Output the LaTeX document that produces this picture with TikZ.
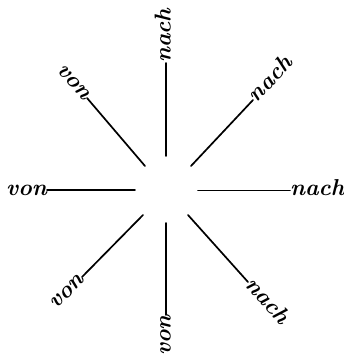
\documentclass[tikz,border=0pt]{standalone}
\begin{document}
\begin{tikzpicture}[x=1pt,y=-1pt,
  ray/.style={line width=1.7pt, line cap=round},
  lab/.style={font=\fontsize{23}{26}\selectfont\bfseries\itshape, inner sep=0pt, text height=10pt, text depth=0pt}]
\useasboundingbox (0,0) rectangle (344,358);
% inner ends
\coordinate (iL)  at (135,190);
\coordinate (iUL) at (145,166);
\coordinate (iLL) at (143,215);
\coordinate (iB)  at (165.7,223);
\coordinate (iT)  at (165.7,156);
\coordinate (iUR) at (191,166);
\coordinate (iR)  at (198,190.5);
\coordinate (iLR) at (188,215);
% labels
\node[lab, anchor=east, rotate=0]     (vL)  at (47,190)    {von};
\node[lab, anchor=east, rotate=-49.5] (vUL) at (87,98)     {von};
\node[lab, anchor=east, rotate=45.5]  (vLL) at (82,277)    {von};
\node[lab, anchor=east, rotate=90]    (vB)  at (165.7,315) {von};
\node[lab, anchor=west, rotate=90]    (nT)  at (165.7,63)  {nach};
\node[lab, anchor=west, rotate=46.8]  (nUR) at (253,100)   {nach};
\node[lab, anchor=west, rotate=0]     (nR)  at (290,190.5) {nach};
\node[lab, anchor=west, rotate=-48.2] (nLR) at (248,282)   {nach};
% rays
\draw[ray] (iL)  -- (vL.east);
\draw[ray] (iUL) -- (vUL.east);
\draw[ray] (iLL) -- (vLL.east);
\draw[ray] (iB)  -- (vB.east);
\draw[ray] (iT)  -- (nT.west);
\draw[ray] (iUR) -- (nUR.west);
\draw[ray] (iR)  -- (nR.west);
\draw[ray] (iLR) -- (nLR.west);
\end{tikzpicture}
\end{document}
